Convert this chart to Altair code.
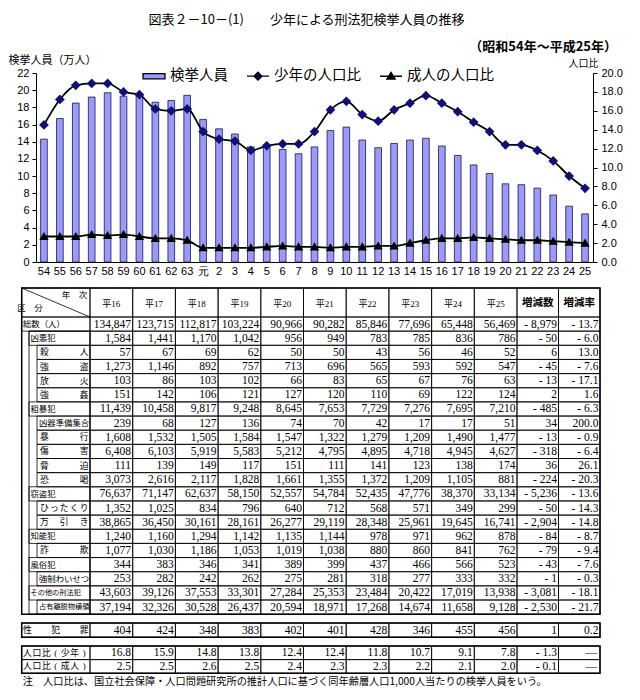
import altair as alt
import pandas as pd

# ---------------- chart data ----------------
years = ['54', '55', '56', '57', '58', '59', '60', '61', '62', '63', '元',
         '2', '3', '4', '5', '6', '7', '8', '9', '10', '11', '12', '13', '14',
         '15', '16', '17', '18', '19', '20', '21', '22', '23', '24', '25']
arrests = [14.3, 16.7, 18.5, 19.2, 19.7, 19.3, 19.4, 18.6, 18.8, 19.4, 16.6,
           15.5, 14.9, 13.4, 13.4, 13.1, 12.6, 13.4, 15.3, 15.7, 14.2, 13.3,
           13.8, 14.2, 14.4, 13.5, 12.4, 11.3, 10.3, 9.1, 9.0, 8.6, 7.8, 6.5, 5.6]
juv_ratio = [14.5, 17.2, 18.7, 18.9, 18.9, 18.0, 17.7, 16.2, 16.0, 16.2, 13.8,
             13.0, 12.8, 11.8, 12.3, 12.5, 12.5, 13.8, 16.1, 17.0, 15.6, 14.9,
             16.1, 16.8, 17.6, 16.8, 15.9, 14.8, 13.8, 12.4, 12.4, 11.8, 10.7, 9.1, 7.8]
adult_ratio = [2.7, 2.7, 2.7, 2.9, 2.8, 2.9, 2.7, 2.5, 2.5, 2.3, 1.5,
               1.5, 1.5, 1.5, 1.6, 1.7, 1.6, 1.6, 1.5, 1.6, 1.6, 1.7,
               1.7, 2.0, 2.3, 2.5, 2.5, 2.6, 2.5, 2.4, 2.3, 2.3, 2.2, 2.1, 2.0]
series_names = ['検挙人員', '少年の人口比', '成人の人口比']

# ---------------- table data ----------------
row_labels = ['総数（人）', '凶悪犯', '殺人', '強盗', '放火', '強姦', '粗暴犯',
              '凶器準備集合', '暴行', '傷害', '脅迫', '恐喝', '窃盗犯', 'ひったくり',
              '万引き', '知能犯', '詐欺', '風俗犯', '強制わいせつ', 'その他の刑法犯',
              '占有離脱物横領', '性犯罪', '人口比(少年)', '人口比(成人)']
col_heads = ['平16', '平17', '平18', '平19', '平20', '平21', '平22', '平23',
             '平24', '平25', '増減数', '増減率']
h16 = [134847, 1584, 57, 1273, 103, 151, 11439, 239, 1608, 6408, 111, 3073, 76637, 1352, 38865, 1240, 1077, 344, 253, 43603, 37194, 404, 16.8, 2.5]
h17 = [123715, 1441, 67, 1146, 86, 142, 10458, 68, 1532, 6103, 139, 2616, 71147, 1025, 36450, 1160, 1030, 383, 282, 39126, 32326, 424, 15.9, 2.5]
h18 = [112817, 1170, 69, 892, 103, 106, 9817, 127, 1505, 5919, 149, 2117, 62637, 834, 30161, 1294, 1186, 346, 242, 37553, 30528, 348, 14.8, 2.6]
h19 = [103224, 1042, 62, 757, 102, 121, 9248, 136, 1584, 5583, 117, 1828, 58150, 796, 28161, 1142, 1053, 341, 262, 33301, 26437, 383, 13.8, 2.5]
h20 = [90966, 956, 50, 713, 66, 127, 8645, 74, 1547, 5212, 151, 1661, 52557, 640, 26277, 1135, 1019, 389, 275, 27284, 20594, 402, 12.4, 2.4]
h21 = [90282, 949, 50, 696, 83, 120, 7653, 70, 1322, 4795, 111, 1355, 54784, 712, 29119, 1144, 1038, 399, 281, 25353, 18971, 401, 12.4, 2.3]
h22 = [85846, 783, 43, 565, 65, 110, 7729, 42, 1279, 4895, 141, 1372, 52435, 568, 28348, 978, 880, 437, 318, 23484, 17268, 428, 11.8, 2.3]
h23 = [77696, 785, 56, 593, 67, 69, 7276, 17, 1209, 4718, 123, 1209, 47776, 571, 25961, 971, 860, 466, 277, 20422, 14674, 346, 10.7, 2.2]
h24 = [65448, 836, 46, 592, 76, 122, 7695, 17, 1490, 4945, 138, 1105, 38370, 349, 19645, 962, 841, 566, 333, 17019, 11658, 455, 9.1, 2.1]
h25 = [56469, 786, 52, 547, 63, 124, 7210, 51, 1477, 4627, 174, 881, 33134, 299, 16741, 878, 762, 523, 332, 13938, 9128, 456, 7.8, 2.0]
change = [-8979, -50, 6, -45, -13, 2, -485, 34, -13, -318, 36, -224, -5236, -50, -2904, -84, -79, -43, -1, -3081, -2530, 1, -1.3, -0.1]
rate = [-13.7, -6.0, 13.0, -7.6, -17.1, 1.6, -6.3, 200.0, -0.9, -6.4, 26.1, -20.3, -13.6, -14.3, -14.8, -8.7, -9.4, -7.6, -0.3, -18.1, -21.7, 0.2, None, None]
footnote = '注　人口比は、国立社会保障・人口問題研究所の推計人口に基づく同年齢層人口1,000人当たりの検挙人員をいう。'

# ================= chart part =================
JP = 'Noto Sans CJK JP'
SERIF = '"Liberation Serif", "Noto Sans CJK JP"'
PW, PH = 557, 189          # plot area
PX0, PY0 = 36.0, 73.0      # where the plot area sits on the page (used to lay out the table)

bar_df = pd.DataFrame({'year': years, 'arrests': arrests})
line_df = pd.DataFrame({
    'year': years + years,
    'series': [series_names[1]] * len(years) + [series_names[2]] * len(years),
    'ratio': juv_ratio + adult_ratio,
})

X = alt.X('year:N', sort=years, scale=alt.Scale(paddingInner=0, paddingOuter=0),
          axis=alt.Axis(title=None, labelAngle=0, ticks=False, labelPadding=3,
                        labelFont='Liberation Sans', labelFontSize=11, labelColor='black',
                        domainColor='black', labelOverlap=False))
YL = alt.Y('arrests:Q', scale=alt.Scale(domain=[0, 22], nice=False),
           axis=alt.Axis(values=list(range(0, 23, 2)), grid=False, title='検挙人員（万人）',
                         titleAngle=0, titleAlign='left', titleBaseline='middle',
                         titleX=-28, titleY=-13, titleFont=JP, titleFontSize=11,
                         titleFontWeight='normal', titleColor='black',
                         labelFont='Liberation Sans', labelFontSize=11, labelColor='black',
                         tickSize=4, tickColor='black', domainColor='black', labelPadding=3))
YR = alt.Y('ratio:Q', scale=alt.Scale(domain=[0, 20], nice=False),
           axis=alt.Axis(orient='right', values=list(range(0, 21, 2)), format='.1f', grid=False,
                         title='人口比', titleAngle=0, titleAlign='right', titleBaseline='middle',
                         titleX=5, titleY=-10, titleFont=JP, titleFontSize=10,
                         titleFontWeight='normal', titleColor='black',
                         labelFont='Liberation Sans', labelFontSize=11, labelColor='black',
                         tickSize=4, tickColor='black', domainColor='black', labelPadding=4))

bars = alt.Chart(bar_df).mark_bar(width={'band': 0.42}, fill='#9999FF', stroke='#1a1a40',
                                  strokeWidth=0.8).encode(x=X, y=YL)
lines = alt.Chart(line_df).mark_line(interpolate='monotone', color='black', strokeWidth=1.8).encode(
    x=X, y=YR, detail='series:N')
pts_j = alt.Chart(line_df).transform_filter(alt.datum.series == series_names[1]).mark_point(
    shape='diamond', filled=True, fill='#10107a', stroke='#10107a', size=48, opacity=1).encode(x=X, y=YR)
pts_a = alt.Chart(line_df).transform_filter(alt.datum.series == series_names[2]).mark_point(
    shape='triangle-up', filled=True, fill='black', stroke='black', size=34, opacity=1).encode(x=X, y=YR)

leg_paths = ['M-1,-0.24H1V0.24H-1Z',
             'M-1,0H1M0,-0.36L0.36,0L0,0.36L-0.36,0Z',
             'M-1,0H1M0,-0.36L0.38,0.26H-0.38Z']
leg_fill = ['#9999FF', '#10107a', 'black']
LEG = alt.Legend(orient='none', legendX=106, legendY=-9, direction='horizontal', title=None,
                 symbolSize=484, labelFont=JP, labelFontSize=14.5, labelColor='black',
                 columnPadding=16, labelOffset=4, symbolStrokeWidth=1.3)
legend_layer = alt.Chart(pd.DataFrame({'series': series_names})).transform_filter('false').mark_point(
    filled=True, stroke='black', strokeWidth=1.3, opacity=1).encode(
    fill=alt.Fill('series:N', scale=alt.Scale(domain=series_names, range=leg_fill), legend=LEG),
    shape=alt.Shape('series:N', scale=alt.Scale(domain=series_names, range=leg_paths), legend=LEG))

sub_layer = alt.Chart(pd.DataFrame({'t': ['（昭和54年～平成25年）']})).mark_text(
    align='right', baseline='middle', font=JP, fontSize=13, fontWeight='bold', color='black').encode(
    x=alt.value(581), y=alt.value(-26.5), text='t:N')

core = alt.layer(bars, alt.layer(lines, pts_j, pts_a), legend_layer, sub_layer).resolve_scale(
    y='independent')

# ================= table part (page-pixel layout through its own scales) =================
LBL_L, LBL_R, TBL_R = 21.7, 90.0, 600.0
COL_W = 42.7
edges = [LBL_R + i * COL_W for i in range(11)] + [LBL_R + 10 * COL_W + 41.5, TBL_R]
HDR_T, HDR_B = 288.0, 317.0
RH = 14.15
levels = [0, 1, 2, 2, 2, 2, 1, 2, 2, 2, 2, 2, 1, 2, 2, 1, 2, 1, 2, 1, 2, 0, 0, 0]
indent = {0: LBL_L, 1: 29.0, 2: 37.0}


def row_span(r):
    if r <= 20:
        t = HDR_B + r * RH
        return t, t + RH
    if r == 21:
        return 623.0, 623.0 + RH
    t = 646.0 + (r - 22) * 13.6
    return t, t + 13.6


def fmt(v, r, kind):
    if v is None:
        return '―'
    dec = r >= 22 or kind == 'rate'
    s = f'{abs(v):.1f}' if dec else f'{abs(v):,}'
    return ('- ' + s) if v < 0 else s


cols = [h16, h17, h18, h19, h20, h21, h22, h23, h24, h25, change, rate]
thin, thick, vals, labs, cent, boldt = [], [], [], [], [], []
thin.append(dict(x1=LBL_L, x2=LBL_R, y1=HDR_T, y2=HDR_B))
for i, h in enumerate(col_heads):
    thin.append(dict(x1=edges[i], x2=edges[i + 1], y1=HDR_T, y2=HDR_B))
    xc = (edges[i] + edges[i + 1]) / 2
    if i >= 10:
        boldt.append(dict(x=xc, y=302.5, t=h, fs=10.5))
    else:
        cent.append(dict(x=xc, y=303.5, t=h, fs=9))
cent.append(dict(x=74.5, y=295, t='年　次', fs=8.5))
cent.append(dict(x=30.0, y=307.5, t='区　分', fs=8.5))
for r, lab in enumerate(row_labels):
    t, b = row_span(r)
    yc = (t + b) / 2
    lv = levels[r]
    thin.append(dict(x1=indent[lv], x2=LBL_R, y1=t, y2=b))
    for i, col in enumerate(cols):
        thin.append(dict(x1=edges[i], x2=edges[i + 1], y1=t, y2=b))
        txt = fmt(col[r], r, 'rate' if i == 11 else 'num')
        pad = 3.0 if txt == '―' else 1.6
        vals.append(dict(x=edges[i + 1] - pad, y=yc + 0.5, t=txt, fs=11.5))
    if (lv == 2 and len(lab) <= 5) or r >= 21:
        fs = 8.8
        L, R = (40.0, 88.5) if lv == 2 else (23.0, 88.5)
        n = len(lab)
        for k, ch in enumerate(lab):
            cent.append(dict(x=L + fs / 2 + k * (R - L - fs) / (n - 1), y=yc, t=ch, fs=fs))
    else:
        fs = 7.2 if len(lab) >= 7 else 8.4
        labs.append(dict(x={0: 23.0, 1: 30.5, 2: 39.0}[lv], y=yc, t=lab, fs=fs))
thin.append(dict(x1=29.0, x2=LBL_R, y1=row_span(1)[0], y2=row_span(20)[1]))
thick.append(dict(x1=LBL_L, x2=TBL_R, y1=HDR_T, y2=row_span(20)[1]))
thick.append(dict(x1=LBL_L, x2=TBL_R, y1=row_span(21)[0], y2=row_span(21)[1]))
thick.append(dict(x1=LBL_L, x2=TBL_R, y1=row_span(22)[0], y2=row_span(23)[1]))
labs.append(dict(x=22.7, y=682.0, t=footnote, fs=10.2))
diag = pd.DataFrame([dict(x1=LBL_L, x2=LBL_R, y1=HDR_T, y2=HDR_B)])

TX = alt.Scale(domain=[PX0, PX0 + PW], nice=False, zero=False)
TY = alt.Scale(domain=[PY0, PY0 + PH], nice=False, zero=False, reverse=True)


def rect_layer(rows, sw):
    return alt.Chart(pd.DataFrame(rows)).mark_rect(filled=False, color='black', strokeWidth=sw).encode(
        x=alt.X('x1:Q', scale=TX, axis=None), x2='x2:Q',
        y=alt.Y('y1:Q', scale=TY, axis=None), y2='y2:Q')


def text_layer(rows, align, font, weight='normal'):
    return alt.Chart(pd.DataFrame(rows)).mark_text(align=align, baseline='middle', font=font,
                                                   fontWeight=weight, color='black').encode(
        x=alt.X('x:Q', scale=TX, axis=None), y=alt.Y('y:Q', scale=TY, axis=None),
        text='t:N', size=alt.Size('fs:Q', scale=None))


table = alt.layer(
    rect_layer(thin, 0.8),
    rect_layer(thick, 1.5),
    alt.Chart(diag).mark_rule(color='black', strokeWidth=0.8).encode(
        x=alt.X('x1:Q', scale=TX, axis=None), x2='x2:Q',
        y=alt.Y('y1:Q', scale=TY, axis=None), y2='y2:Q'),
    text_layer(vals, 'right', SERIF),
    text_layer(labs, 'left', JP),
    text_layer(cent, 'center', SERIF),
    text_layer(boldt, 'center', JP, 'bold'),
)

chart = alt.layer(core, table).resolve_scale(x='independent', y='independent').properties(
    width=PW, height=PH,
    padding={'left': 0, 'top': 5, 'right': 0, 'bottom': 0},
    title=alt.TitleParams(text='図表２－10－(1)　　少年による刑法犯検挙人員の推移', font=JP,
                          fontSize=13, fontWeight='normal', anchor='middle', frame='group',
                          dx=-8, offset=14, color='black'),
).configure_view(strokeWidth=0)

chart.save('out.html', embed_options={'renderer': 'svg', 'actions': False})
